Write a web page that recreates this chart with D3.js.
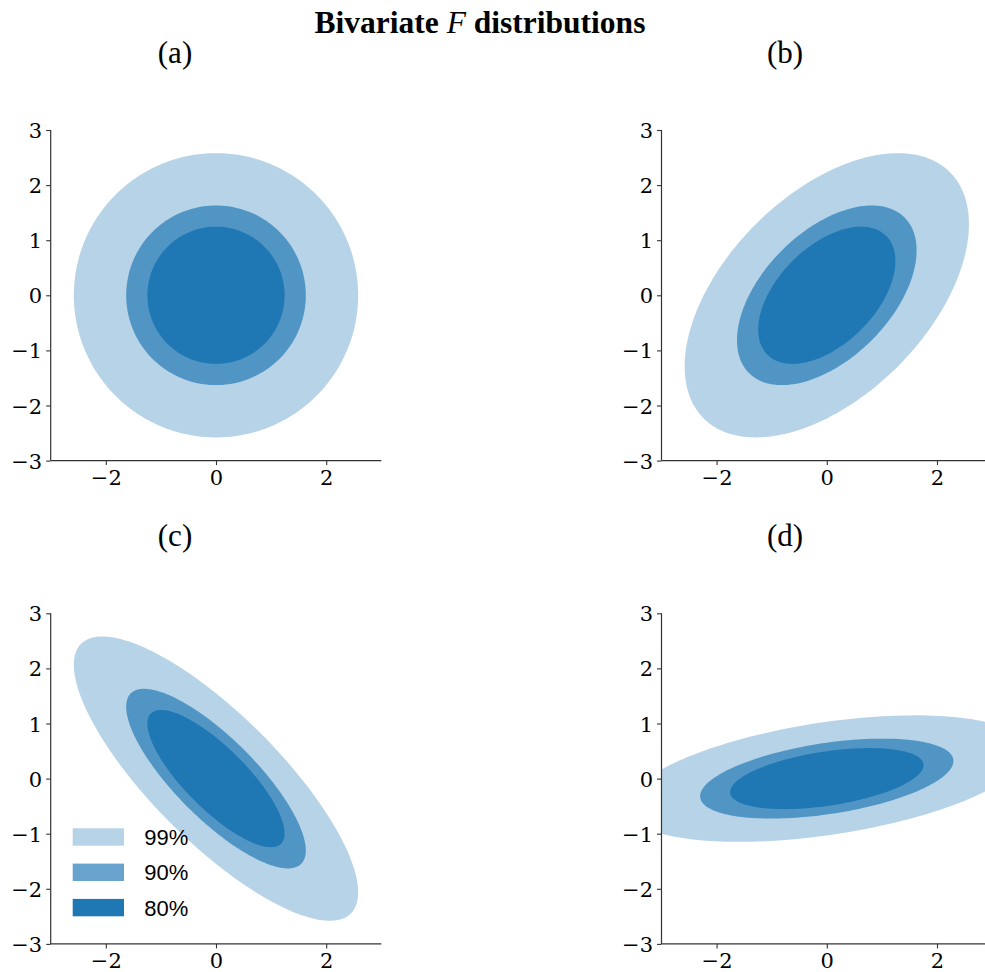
<!DOCTYPE html>
<html>
<head>
<meta charset="utf-8">
<script src="https://cdn.jsdelivr.net/npm/d3@7"></script>
<style>
  body { margin: 0; background: #fff; }
  svg { display: block; }
</style>
</head>
<body>
<div id="chart"></div>
<script>
// panel labels and the shape of each bivariate distribution
var panelNames = ["(a)", "(b)", "(c)", "(d)"];
var sdX = [1, 1, 1, 1.41];
var sdY = [1, 1, 1, 0.445];
var rho = [0, 0.5, -0.8, 0.44];

// contour levels, outermost first, and their radius in standardised units
var levelNames = ["99%", "90%", "80%"];
var levelRadius = [2.58, 1.63, 1.245];

var xTicks = [-2, 0, 2];
var yTicks = [-3, -2, -1, 0, 1, 2, 3];

var width = 985, height = 972;
var blue = "#1f77b4";
var alphas = [0.32, 0.68, 1];
var size = 330.6;
var origins = [[50.7, 130], [661.5, 130], [50.7, 613.3], [661.5, 613.3]];

var svg = d3.select("#chart").append("svg")
    .attr("width", width)
    .attr("height", height);

svg.append("text")
    .attr("x", 480)
    .attr("y", 33)
    .attr("text-anchor", "middle")
    .style("font-family", "Liberation Serif, Times New Roman, serif")
    .style("font-weight", "bold")
    .style("font-size", "31.5px")
    .call(function(t){
        t.append("tspan").text("Bivariate ");
        t.append("tspan").style("font-style", "italic").style("font-weight", "normal").text("F");
        t.append("tspan").text(" distributions");
    });

var x = d3.scaleLinear().domain([-3, 3]).range([0, size]);
var y = d3.scaleLinear().domain([-3, 3]).range([size, 0]);
var angles = d3.range(0, 361, 2).map(function(d){ return d * Math.PI / 180; });

panelNames.forEach(function(name, i){
    var g = svg.append("g")
        .attr("transform", "translate(" + origins[i][0] + "," + origins[i][1] + ")");

    g.append("text")
        .attr("x", i % 2 == 0 ? 124.3 : 123.5)
        .attr("y", -67)
        .attr("text-anchor", "middle")
        .style("font-family", "Liberation Serif, Times New Roman, serif")
        .style("font-size", "31px")
        .text(name);

    var clipId = "clip" + i;
    g.append("clipPath").attr("id", clipId)
        .append("rect").attr("width", size).attr("height", size);

    var line = d3.line()
        .x(function(d){ return x(d[0]); })
        .y(function(d){ return y(d[1]); });

    levelRadius.forEach(function(c, k){
        var pts = angles.map(function(a){
            return [c * sdX[i] * Math.cos(a),
                    c * sdY[i] * (rho[i] * Math.cos(a) + Math.sqrt(1 - rho[i] * rho[i]) * Math.sin(a))];
        });
        g.append("path")
            .attr("clip-path", "url(#" + clipId + ")")
            .attr("d", line(pts) + "Z")
            .attr("fill", blue)
            .attr("fill-opacity", alphas[k]);
    });

    var xa = g.append("g")
        .attr("transform", "translate(0," + size + ")")
        .call(d3.axisBottom(x).tickValues(xTicks).tickSize(4.5).tickPadding(4)
              .tickFormat(function(d){ return d < 0 ? "\u2212" + (-d) : d; }));
    var ya = g.append("g")
        .call(d3.axisLeft(y).tickValues(yTicks).tickSize(4.5).tickPadding(4)
              .tickFormat(function(d){ return d < 0 ? "\u2212" + (-d) : d; }));

    [xa, ya].forEach(function(a){
        a.select(".domain").attr("stroke", "#333").attr("stroke-width", 1.2)
            .attr("d", a === xa ? "M0,0H" + size : "M0,0V" + size);
        a.selectAll(".tick line").attr("stroke", "#333").attr("stroke-width", 1.1);
        a.selectAll(".tick text")
            .attr("fill", "#000")
            .style("font-family", "DejaVu Serif, serif")
            .style("font-size", "21px");
    });
    xa.selectAll(".tick text").attr("dy", "0.76em");
    ya.selectAll(".tick text").attr("dy", "0.36em");

    // legend only in panel (c)
    if (i == 2) {
        var lg = g.append("g").attr("transform", "translate(22, 215)");
        levelNames.forEach(function(lab, k){
            lg.append("rect")
                .attr("x", 0)
                .attr("y", k * 35.3)
                .attr("width", 51.3)
                .attr("height", 17.4)
                .attr("fill", blue)
                .attr("fill-opacity", alphas[k]);
            lg.append("text")
                .attr("x", 71.6)
                .attr("y", k * 35.3 + 16.8)
                .style("font-family", "Liberation Sans, Arial, sans-serif")
                .style("font-size", "22px")
                .text(lab);
        });
    }
});
</script>
</body>
</html>
